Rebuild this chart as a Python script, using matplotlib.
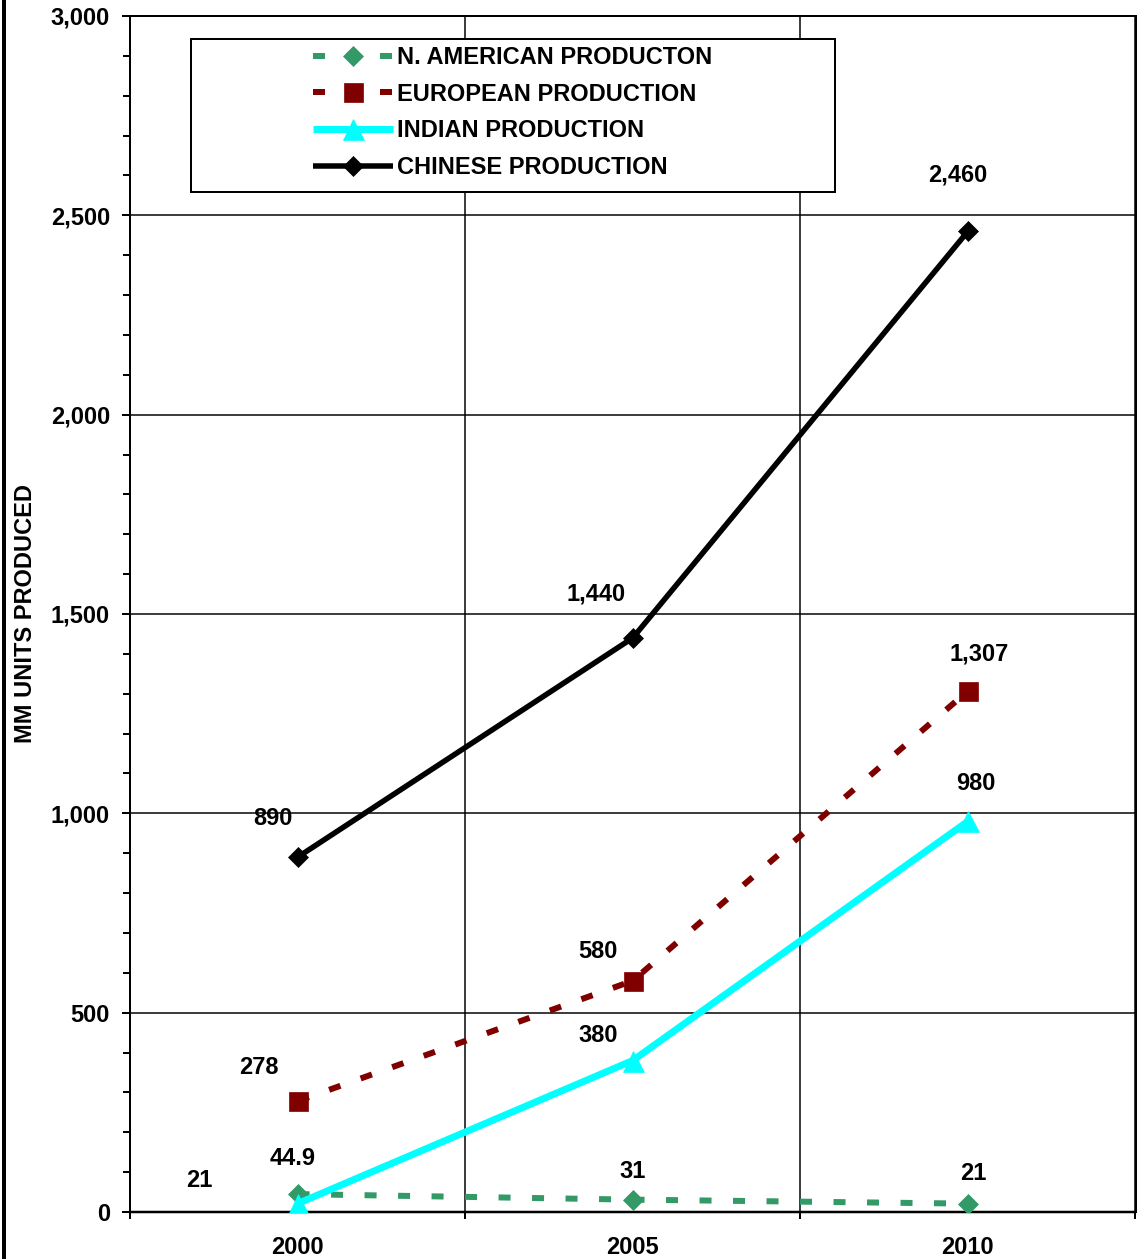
import matplotlib
matplotlib.use('Agg')
import matplotlib.pyplot as plt
from matplotlib.patches import Rectangle
from matplotlib.ticker import MultipleLocator, FixedLocator, FuncFormatter, NullFormatter

plt.rcParams['font.family'] = ['Liberation Sans', 'DejaVu Sans']
plt.rcParams['font.weight'] = 'bold'
plt.rcParams['lines.scale_dashes'] = False

# ---------------- data ----------------
years = ['2000', '2005', '2010']
na_prod = [44.9, 31, 21]
eu_prod = [278, 580, 1307]
in_prod = [21, 380, 980]
cn_prod = [890, 1440, 2460]
series_labels = ['N. AMERICAN PRODUCTON', 'EUROPEAN PRODUCTION',
                 'INDIAN PRODUCTION', 'CHINESE PRODUCTION']
y_label = 'MM UNITS PRODUCED'
y_max = 3000

# ---------------- style ----------------
W, H = 1137, 1259
PX = 0.72  # points per pixel at dpi 100
FS = 17
fs_px = FS / PX

fig = plt.figure(figsize=(W / 100, H / 100), dpi=100)
ax_l, ax_r, ax_t, ax_b = 130, 1135.5, 16, 1212
ax = fig.add_axes([ax_l / W, 1 - ax_b / H, (ax_r - ax_l) / W, (ax_b - ax_t) / H])

xs = list(range(len(years)))
dash = (0, (12 * PX, 21.5 * PX))

styles = [
    dict(color='#339966', lw=6 * PX, ls=dash, marker='D', ms=14.5 * PX, mec='#339966', mew=0.5),
    dict(color='#800000', lw=6 * PX, ls=dash, marker='s', ms=19 * PX, mec='#800000', mew=0.5),
    dict(color='#00FFFF', lw=7 * PX, ls='-', marker='^', ms=21 * PX, mec='#00FFFF', mew=0.5),
    dict(color='#000000', lw=5.5 * PX, ls='-', marker='D', ms=13.5 * PX, mec='#000000', mew=0.5),
]
all_series = [na_prod, eu_prod, in_prod, cn_prod]

# label offsets in pixels (dx, dy up) from the point to label centre
offsets = [
    [(-5, 37), (-0.5, 29.6), (5.5, 31.6)],
    [(-38.5, 36), (-35, 31), (11.5, 39)],
    [(-98, 24.6), (-35, 27), (8, 40)],
    [(-25, 40.7), (-36.5, 46), (-9.8, 57.8)],
]

def fmt(v):
    return f"{v:,.0f}" if float(v).is_integer() else f"{v:,}"

handles = []
for vals, st, lab, offs in zip(all_series, styles, series_labels, offsets):
    ln, = ax.plot(xs, vals, label=lab, zorder=3, solid_capstyle='butt',
                  dash_capstyle='butt', **st)
    handles.append(ln)
    for xi, v, (dx, dy) in zip(xs, vals, offs):
        ax.annotate(fmt(v), (xi, v), xytext=(dx, dy - 8.4), textcoords='offset pixels',
                    ha='center', va='baseline', fontsize=FS, fontweight='bold', zorder=6)

ax.set_xlim(-0.5, len(years) - 0.5)
ax.set_ylim(0, y_max)

# y axis
ax.yaxis.set_major_locator(MultipleLocator(500))
ax.yaxis.set_minor_locator(MultipleLocator(100))
ax.yaxis.set_major_formatter(FuncFormatter(lambda v, p: f"{v:,.0f}"))
ax.tick_params(axis='y', which='major', direction='out', length=8 * PX, width=2 * PX,
               pad=12 * PX, labelsize=FS)
ax.tick_params(axis='y', which='minor', direction='out', length=7 * PX, width=2 * PX)

# x axis: boundaries as major ticks (gridlines), categories as minor labels
ax.xaxis.set_major_locator(FixedLocator([i - 0.5 for i in range(len(years) + 1)]))
ax.xaxis.set_major_formatter(NullFormatter())
ax.xaxis.set_minor_locator(FixedLocator(xs))
ax.set_xticklabels(years, minor=True)
ax.tick_params(axis='x', which='major', direction='out', length=7 * PX, width=2 * PX)
ax.tick_params(axis='x', which='minor', length=0, pad=24 * PX, labelsize=FS)

ax.grid(True, which='major', color='black', lw=1.5 * PX, zorder=1)
ax.set_axisbelow(True)
for sp in ax.spines.values():
    sp.set_color('black')
    sp.set_linewidth(2 * PX)
ax.spines['bottom'].set_linewidth(2.5 * PX)

# legend box + legend
box_l, box_r, box_t, box_b = 191, 835, 39, 192
def ax_fx(px):
    return (px - ax_l) / (ax_r - ax_l)
def ax_fy(py):
    return (ax_b - py) / (ax_b - ax_t)
ax.add_patch(Rectangle((ax_fx(box_l), ax_fy(box_b)), ax_fx(box_r) - ax_fx(box_l),
                       ax_fy(box_t) - ax_fy(box_b), transform=ax.transAxes,
                       facecolor='white', edgecolor='black', lw=2 * PX, zorder=4))
ax.legend(handles=handles, loc='upper left', bbox_to_anchor=(ax_fx(313), ax_fy(46)),
          frameon=False, borderpad=0, borderaxespad=0, numpoints=1,
          handlelength=80 / fs_px, handletextpad=4 / fs_px, labelspacing=0.58,
          prop=dict(size=FS, weight='bold'))

# y label
fig.text(26 / W, 1 - 613.5 / H, y_label, rotation=90, ha='center', va='center',
         fontsize=FS, fontweight='bold')

# left border line
fig.patches.append(Rectangle((1.7 / W, 0), 4.5 / W, 1, transform=fig.transFigure,
                             facecolor='black', edgecolor='none'))

fig.savefig('out.png', dpi=100)
